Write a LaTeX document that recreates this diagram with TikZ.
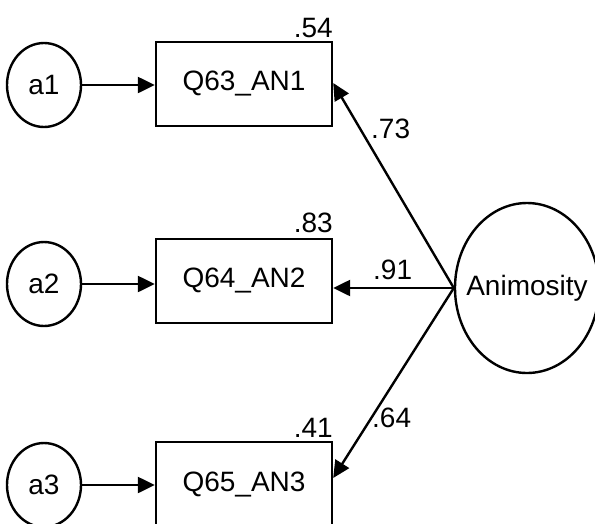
\documentclass[tikz,border=0pt]{standalone}
\usepackage{fontspec}
\setmainfont{Liberation Sans}
\usetikzlibrary{shapes.geometric,arrows.meta}
\begin{document}
\begin{tikzpicture}[x=1pt,y=-1pt,
  every node/.style={font=\fontsize{28}{33}\selectfont},
  err/.style={draw,line width=2.4pt,ellipse,minimum width=74pt,minimum height=84pt,inner sep=0pt},
  obs/.style={draw,line width=2.4pt,rectangle,minimum width=176pt,minimum height=84pt,inner sep=0pt},
  lat/.style={draw,line width=2.4pt,ellipse,minimum width=144pt,minimum height=170pt,inner ysep=0pt,inner xsep=-20pt},
  path/.style={line width=2.4pt,-{Triangle[length=17pt,width=16pt]}},
  lab/.style={inner sep=0pt}]
\useasboundingbox (0,0) rectangle (595,523);
\node[err] (a1) at (44,85) {a1};
\node[err] (a2) at (44,284) {a2};
\node[err] (a3) at (44,485) {a3};
\node[obs] (q1) at (244,84) {Q63\_AN1};
\node[obs] (q2) at (244,281) {Q64\_AN2};
\node[obs] (q3) at (244,484) {Q65\_AN3};
\node[lat] (an) at (527,288) {Animosity};
\draw[path] (a1.east) -- (a1.east -| q1.west);
\draw[path] (a2.east) -- (a2.east -| q2.west);
\draw[path] (a3.east) -- (a3.east -| q3.west);
\coordinate (t1) at ([yshift=1pt]q1.east);
\coordinate (t2) at (an.west -| q2.east);
\coordinate (t3) at ([yshift=6pt]q3.east);
\draw[path] (an.west) -- (t1);
\draw[path] (an.west) -- (t2);
\draw[path] (an.west) -- (t3);
\node[lab,anchor=base east] (r1) at (333,37) {.54};
\node[lab,anchor=base east] (r2) at (333,232) {.83};
\node[lab,anchor=base east] (r3) at (333,437) {.41};
\node[lab,anchor=base west] (l1) at (371,138) {.73};
\node[lab,anchor=base west] (l2) at (373,279) {.91};
\node[lab,anchor=base west] (l3) at (372,427) {.64};
\end{tikzpicture}
\end{document}
